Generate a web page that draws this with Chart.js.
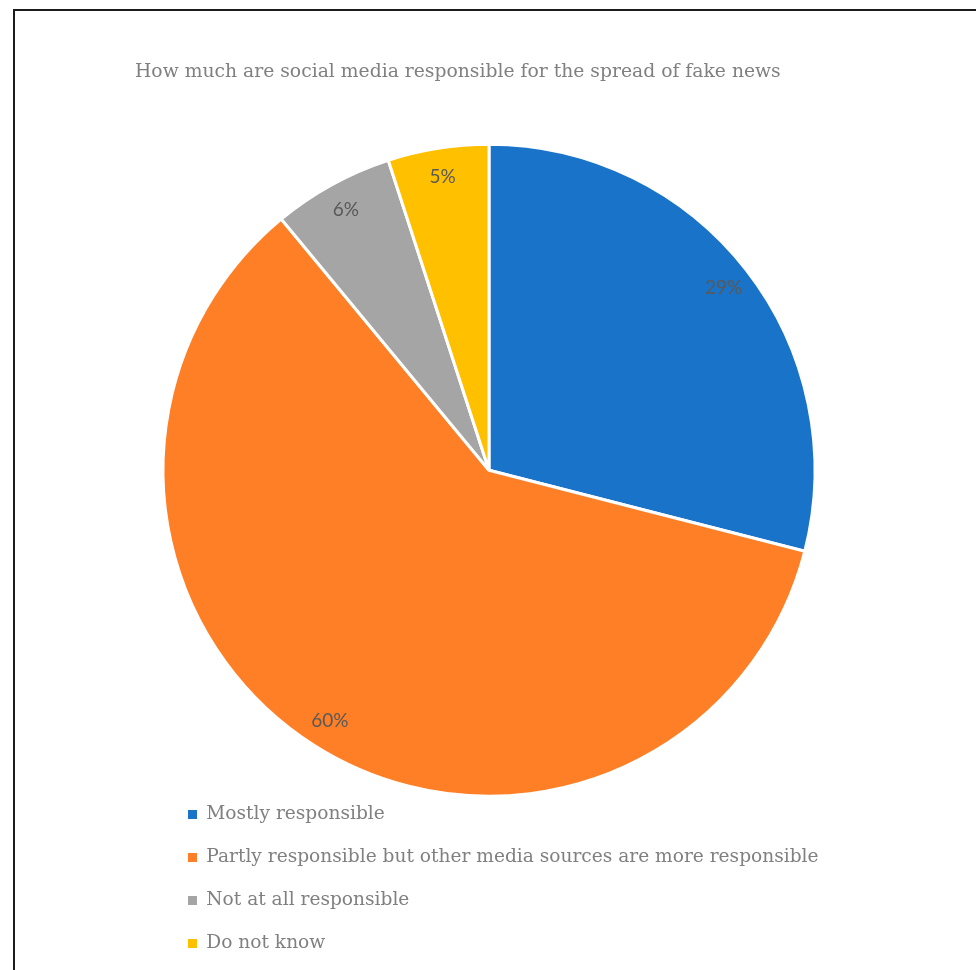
<!DOCTYPE html>
<html>
<head>
<meta charset="utf-8">
<script src="https://cdn.jsdelivr.net/npm/chart.js@4"></script>
<style>
    html, body { margin: 0; padding: 0; background: #ffffff; overflow: hidden; }
    #wrap { position: relative; width: 976px; height: 970px; }
    #frame {
        position: absolute; left: 13px; top: 9px; width: 1000px; height: 1000px;
        border-left: 2px solid #1c1c1c; border-top: 2px solid #1c1c1c;
        pointer-events: none;
    }
</style>
</head>
<body>
<div id="wrap">
    <canvas id="fakeNewsPie" width="976" height="970"></canvas>
    <div id="frame"></div>
</div>
<script>

/***************************************************/
/********************* DATA ************************/
/***************************************************/
const chartTitle = 'How much are social media responsible for the spread of fake news';
const categories = [
    'Mostly responsible',
    'Partly responsible but other media sources are more responsible',
    'Not at all responsible',
    'Do not know'
];
const shares = [29, 60, 6, 5];
const sliceColors = ['#1873c9', '#fe7f26', '#a5a5a5', '#ffc000'];


/***************************************************/
/******************* SETTINGS **********************/
/***************************************************/
const textGray = '#808080';
const labelGray = '#595959';
const serifFont = '"DejaVu Serif", "Liberation Serif", serif';

const legendFontSize = 18.6;
const legendPadding = 43 - legendFontSize;   // row spacing of 43px
const legendLeft = 188 - legendPadding;
const legendTop = 810 - legendPadding - (legendFontSize - 9) / 2;

Chart.defaults.font.family = serifFont;


/***************************************************/
/******************* PLUGINS ***********************/
/***************************************************/

// percentage text inside each slice, near the rim
const sliceLabels = {
    id: 'sliceLabels',
    afterDatasetsDraw(chart) {
        const ctx = chart.ctx;
        const meta = chart.getDatasetMeta(0);
        ctx.save();
        ctx.font = '19px Lato, "Open Sans", sans-serif';
        ctx.fillStyle = labelGray;
        ctx.textAlign = 'center';
        ctx.textBaseline = 'middle';
        meta.data.forEach(function (arc, i) {
            const p = arc.getProps(['x', 'y', 'startAngle', 'endAngle', 'outerRadius'], true);
            const mid = (p.startAngle + p.endAngle) / 2;
            const r = p.outerRadius * 0.911;
            ctx.fillText(shares[i] + '%', p.x + Math.cos(mid) * r, p.y + Math.sin(mid) * r);
        });
        ctx.restore();
    }
};

// move the legend column under the pie, left aligned
// (bottom is left well past the canvas so the column never wraps)
const legendPlacement = {
    id: 'legendPlacement',
    afterLayout(chart) {
        const lg = chart.legend;
        if (!lg) return;
        lg.left = legendLeft;
        lg.top = legendTop;
        lg.right = chart.width;
        lg.bottom = chart.height + 400;
    }
};


/***************************************************/
/******************** CHART ************************/
/***************************************************/
function drawPieChart(chartId) {

    var data = {
        labels: categories,
        datasets: [{
            data: shares,
            backgroundColor: sliceColors,
            borderColor: '#ffffff',
            borderWidth: 3
        }]
    };

    var options = {
        responsive: false,
        animation: false,
        radius: 326,
        layout: {
            padding: { left: 135, right: 133, top: 10, bottom: 175 }
        },
        plugins: {
            title: {
                display: true,
                text: chartTitle,
                align: 'start',
                color: textGray,
                font: { family: serifFont, size: 18.75, weight: 'normal' },
                padding: { top: 51, bottom: 62 }
            },
            legend: {
                position: 'chartArea',
                align: 'start',
                labels: {
                    boxWidth: 9,
                    boxHeight: 9,
                    padding: legendPadding,
                    color: textGray,
                    font: { family: serifFont, size: legendFontSize },
                    generateLabels: function (chart) {
                        const items = Chart.overrides.pie.plugins.legend.labels.generateLabels(chart);
                        items.forEach(function (it) { it.lineWidth = 0; });
                        return items;
                    }
                }
            },
            tooltip: { enabled: false }
        }
    };

    const ctx = document.getElementById(chartId).getContext('2d');
    const pieChart = new Chart(ctx, {
        type: 'pie',
        data: data,
        options: options,
        plugins: [sliceLabels, legendPlacement]
    });
}

drawPieChart('fakeNewsPie');
</script>
</body>
</html>
